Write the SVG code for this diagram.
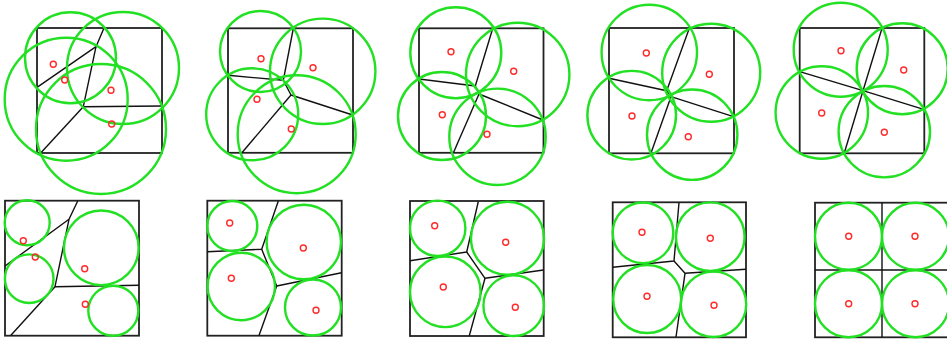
<svg xmlns="http://www.w3.org/2000/svg" width="947" height="341" viewBox="0 0 947 341">
<style>
.bx{fill:none;stroke:#222;stroke-width:1.8}
.vl{fill:none;stroke:#111;stroke-width:1.4;stroke-linejoin:round}
.c{fill:none;stroke:#22e022;stroke-width:2.4}
.p{fill:none;stroke:#ff2a2a;stroke-width:1.4}
</style>
<rect width="947" height="341" fill="#fff"/>
<g id="panel1">
<rect class="bx" x="37" y="28" width="125" height="125"/>
<polyline class="vl" points="37,87.3 96,46.7 104,28"/>
<polyline class="vl" points="96,46.7 83.3,106.7 162,106"/>
<polyline class="vl" points="83.3,106.7 40.7,153"/>
<circle class="c" cx="70.5" cy="57.8" r="45.5"/>
<circle class="c" cx="123" cy="68" r="56"/>
<circle class="c" cx="66.2" cy="99.2" r="61.5"/>
<circle class="c" cx="101" cy="129" r="65"/>
<circle class="p" cx="53.3" cy="64.3" r="3"/>
<circle class="p" cx="64.7" cy="80" r="3"/>
<circle class="p" cx="111" cy="90.3" r="3"/>
<circle class="p" cx="111.7" cy="124" r="3"/>
</g>
<g id="panel2">
<rect class="bx" x="228" y="28.3" width="125" height="124.5"/>
<polyline class="vl" points="228,75.3 283.3,80.3 293.3,28.5"/>
<polyline class="vl" points="283.3,80.3 291,95 352.7,115"/>
<polyline class="vl" points="291,95 241.7,153"/>
<circle class="c" cx="260.5" cy="51.5" r="40.5"/>
<circle class="c" cx="322.7" cy="71.3" r="52.7"/>
<circle class="c" cx="252.2" cy="114.3" r="46"/>
<circle class="c" cx="296.7" cy="134.2" r="59"/>
<circle class="p" cx="261" cy="58.7" r="3"/>
<circle class="p" cx="313" cy="67.7" r="3"/>
<circle class="p" cx="257" cy="99.3" r="3"/>
<circle class="p" cx="291.3" cy="129" r="3"/>
</g>
<g id="panel3">
<rect class="bx" x="419" y="28.3" width="124.5" height="124.5"/>
<polyline class="vl" points="419,79 475.3,86 492.7,28.5"/>
<polyline class="vl" points="475.3,86 479,94 543,120"/>
<polyline class="vl" points="479,94 453.3,153"/>
<circle class="c" cx="455.8" cy="52.8" r="45.5"/>
<circle class="c" cx="517.7" cy="74.5" r="51.7"/>
<circle class="c" cx="442" cy="116" r="44"/>
<circle class="c" cx="497.5" cy="136.8" r="48.2"/>
<circle class="p" cx="451" cy="51.7" r="3"/>
<circle class="p" cx="513.7" cy="71.3" r="3"/>
<circle class="p" cx="442.3" cy="114.7" r="3"/>
<circle class="p" cx="487" cy="134.3" r="3"/>
</g>
<g id="panel4">
<rect class="bx" x="609" y="28" width="125" height="125.3"/>
<polyline class="vl" points="609,78.3 666.7,90.7 689.3,28.3"/>
<polyline class="vl" points="666.7,90.7 671,96.7 733.5,116.7"/>
<polyline class="vl" points="671,96.7 651,153"/>
<circle class="c" cx="649.3" cy="52.5" r="47.7"/>
<circle class="c" cx="711.2" cy="72.7" r="49"/>
<circle class="c" cx="631.7" cy="115.2" r="44.3"/>
<circle class="c" cx="692.2" cy="134.7" r="45.2"/>
<circle class="p" cx="646.3" cy="53" r="3"/>
<circle class="p" cx="709.3" cy="74.3" r="3"/>
<circle class="p" cx="632" cy="116" r="3"/>
<circle class="p" cx="688.3" cy="136.7" r="3"/>
</g>
<g id="panel5">
<rect class="bx" x="799.7" y="28" width="124.6" height="125.3"/>
<polyline class="vl" points="799.7,71.7 863,90.7 882,28.3"/>
<polyline class="vl" points="863,90.7 923.7,109.3"/>
<polyline class="vl" points="863,90.7 844.3,153"/>
<circle class="c" cx="840.7" cy="49.7" r="47"/>
<circle class="c" cx="902.2" cy="68.8" r="45.5"/>
<circle class="c" cx="821.8" cy="112.5" r="46.2"/>
<circle class="c" cx="884.3" cy="131.7" r="45.7"/>
<circle class="p" cx="841" cy="50.7" r="3"/>
<circle class="p" cx="903.7" cy="70" r="3"/>
<circle class="p" cx="821.7" cy="113" r="3"/>
<circle class="p" cx="884.3" cy="132.3" r="3"/>
</g>
<g id="panel6">
<rect class="bx" x="5" y="200.7" width="134" height="135"/>
<polyline class="vl" points="5,266 69,219.3 77.7,201"/>
<polyline class="vl" points="69,219.3 55,286.7 139,285.3"/>
<polyline class="vl" points="55,286.7 10.7,335.5"/>
<circle class="c" cx="27.2" cy="222.7" r="22.5"/>
<circle class="c" cx="29.2" cy="278.7" r="24.3"/>
<circle class="c" cx="101.3" cy="247.8" r="37.3"/>
<circle class="c" cx="113.3" cy="310.7" r="25"/>
<circle class="p" cx="23.3" cy="240.7" r="3"/>
<circle class="p" cx="35.3" cy="257" r="3"/>
<circle class="p" cx="84.7" cy="268.7" r="3"/>
<circle class="p" cx="85.3" cy="304.3" r="3"/>
</g>
<g id="panel7">
<rect class="bx" x="207.3" y="200.7" width="134.4" height="135"/>
<polyline class="vl" points="207.3,251.7 261.7,249.3 278.3,201"/>
<polyline class="vl" points="261.7,249.3 276.7,286 341.5,272.7"/>
<polyline class="vl" points="276.7,286 259,335.5"/>
<circle class="c" cx="232.3" cy="226" r="25"/>
<circle class="c" cx="303.8" cy="242" r="37.2"/>
<circle class="c" cx="241.3" cy="286.5" r="33.7"/>
<circle class="c" cx="313" cy="307.5" r="28"/>
<circle class="p" cx="229.7" cy="223" r="3"/>
<circle class="p" cx="303.3" cy="248" r="3"/>
<circle class="p" cx="231.3" cy="278.3" r="3"/>
<circle class="p" cx="316" cy="310.3" r="3"/>
</g>
<g id="panel8">
<rect class="bx" x="410" y="201" width="133.7" height="135"/>
<polyline class="vl" points="410,260.7 466.7,252 478.3,201.5"/>
<polyline class="vl" points="466.7,252 485,278.3 543.5,270"/>
<polyline class="vl" points="485,278.3 469.3,335.8"/>
<circle class="c" cx="437.7" cy="228.3" r="27.7"/>
<circle class="c" cx="507.5" cy="238.3" r="36.5"/>
<circle class="c" cx="445.3" cy="291.8" r="35.3"/>
<circle class="c" cx="513.7" cy="305.7" r="30.3"/>
<circle class="p" cx="434.7" cy="225.7" r="3"/>
<circle class="p" cx="505.7" cy="242.3" r="3"/>
<circle class="p" cx="443.3" cy="287" r="3"/>
<circle class="p" cx="515.3" cy="307.3" r="3"/>
</g>
<g id="panel9">
<rect class="bx" x="612.7" y="202.3" width="133.3" height="135"/>
<polyline class="vl" points="612.7,267.3 674,261 679,202.5"/>
<polyline class="vl" points="674,261 685,273.3 745.8,269.3"/>
<polyline class="vl" points="685,273.3 676,337"/>
<circle class="c" cx="643" cy="232.8" r="30.3"/>
<circle class="c" cx="710.3" cy="236.7" r="34.3"/>
<circle class="c" cx="647.2" cy="299" r="34"/>
<circle class="c" cx="713.5" cy="304.3" r="32.7"/>
<circle class="p" cx="642" cy="232.3" r="3"/>
<circle class="p" cx="710.3" cy="238.3" r="3"/>
<circle class="p" cx="647" cy="296.3" r="3"/>
<circle class="p" cx="714" cy="305.3" r="3"/>
</g>
<g id="panel10">
<rect class="bx" x="815" y="202.7" width="134" height="134.6"/>
<line class="vl" x1="882" y1="202.7" x2="882" y2="337.3"/>
<line class="vl" x1="815" y1="270" x2="949" y2="270"/>
<circle class="c" cx="848.5" cy="236.3" r="33.5"/>
<circle class="c" cx="915.5" cy="236.3" r="33.5"/>
<circle class="c" cx="848.5" cy="303.7" r="33.5"/>
<circle class="c" cx="915.5" cy="303.7" r="33.5"/>
<circle class="p" cx="848.7" cy="236.3" r="3"/>
<circle class="p" cx="915" cy="236.3" r="3"/>
<circle class="p" cx="848.7" cy="303.7" r="3"/>
<circle class="p" cx="915" cy="303.7" r="3"/>
</g>
</svg>
